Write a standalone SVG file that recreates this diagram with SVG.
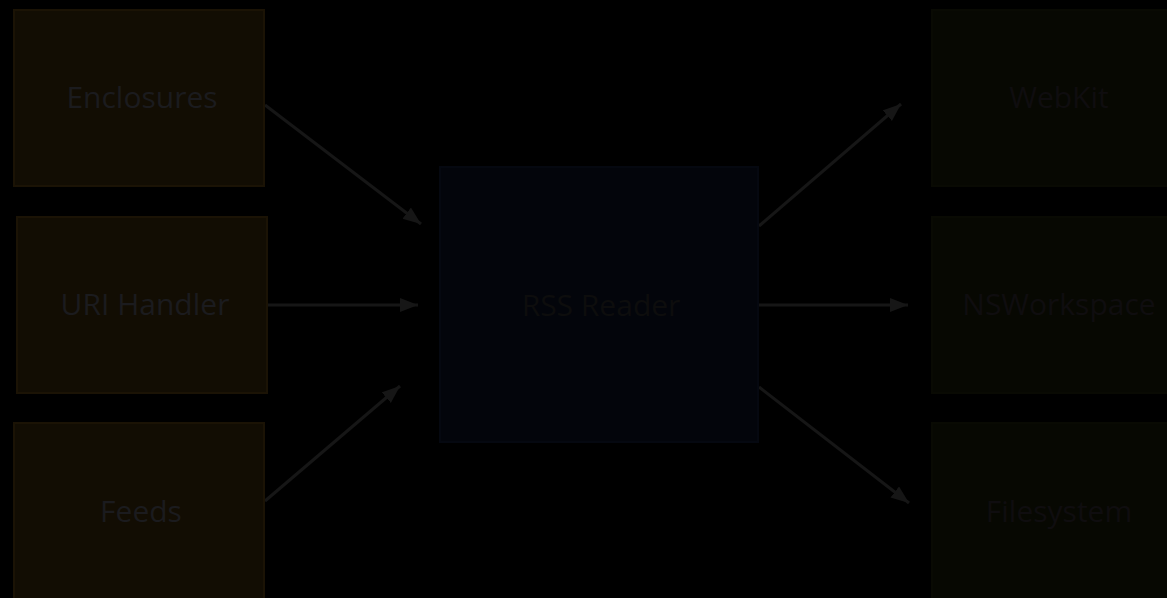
<svg xmlns="http://www.w3.org/2000/svg" width="1167" height="598" viewBox="0 0 1167 598">
<style>
.left rect{fill:#120d03;stroke:#1b1305;stroke-width:2}
.mid rect{fill:#03050b;stroke:#050810;stroke-width:2}
.right rect{fill:#070802;stroke:#090a03;stroke-width:2}
text{font-family:"Open Sans","Liberation Sans",sans-serif;font-size:30px;text-anchor:middle}
.left text{fill:#1b1b1e}
.mid text{fill:#0d0d0d}
.right text{fill:#0f0d0f}
.conn line{stroke:#161616;stroke-width:3;fill:none;marker-end:url(#ah)}
</style>
<defs>
<marker id="ah" markerUnits="userSpaceOnUse" markerWidth="20" markerHeight="16" refX="18" refY="7" orient="auto">
<path d="M0,0 L18,7 L0,14 z" fill="#161616"/>
</marker>
</defs>
<rect x="0" y="0" width="1167" height="598" fill="#000"/>
<g class="conn">
<line x1="265" y1="105" x2="421" y2="224"/>
<line x1="268" y1="305" x2="418" y2="305"/>
<line x1="265" y1="501" x2="400" y2="386"/>
<line x1="759" y1="226" x2="901" y2="104"/>
<line x1="759" y1="305" x2="908" y2="305"/>
<line x1="759" y1="387" x2="909" y2="503"/>
</g>
<g id="enclosures" class="left"><rect x="14" y="10" width="250" height="176"/><text x="142" y="108">Enclosures</text></g>
<g id="uri-handler" class="left"><rect x="17" y="217" width="250" height="176"/><text x="145" y="315">URI Handler</text></g>
<g id="feeds" class="left"><rect x="14" y="423" width="250" height="178"/><text x="141" y="522">Feeds</text></g>
<g id="rss-reader" class="mid"><rect x="440" y="167" width="318" height="275"/><text x="601" y="316">RSS Reader</text></g>
<g id="webkit" class="right"><rect x="932" y="10" width="254" height="176"/><text x="1059" y="108">WebKit</text></g>
<g id="nsworkspace" class="right"><rect x="932" y="217" width="254" height="176"/><text x="1059" y="315">NSWorkspace</text></g>
<g id="filesystem" class="right"><rect x="932" y="423" width="254" height="178"/><text x="1059" y="522">Filesystem</text></g>
</svg>
